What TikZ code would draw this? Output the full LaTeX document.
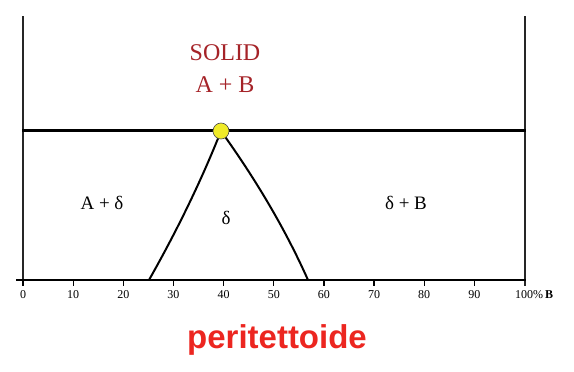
\documentclass[tikz,border=0pt]{standalone}
\usepackage{fontspec}
\setmainfont{Liberation Serif}
\newfontfamily\arialfont{Liberation Sans}
\definecolor{solidred}{RGB}{165,35,40}
\definecolor{titlered}{RGB}{236,38,32}
\definecolor{dotyellow}{RGB}{240,235,40}
\begin{document}
\begin{tikzpicture}[x=1pt,y=-1pt,
  frameline/.style={line width=2pt,draw=black!85},
  thickline/.style={line width=3pt,draw=black},
  curveline/.style={line width=2pt,draw=black},
  ticklabel/.style={font=\fontsize{12}{12}\selectfont,inner sep=0pt,anchor=north},
  regionlabel/.style={font=\fontsize{19}{19}\selectfont,inner sep=0pt},
  solidlabel/.style={font=\fontsize{24}{24}\selectfont,text=solidred,inner sep=0pt,align=center}
]
\useasboundingbox (0,0) rectangle (574,372);
% frame
\coordinate (ltop) at (23,16);
\coordinate (lbot) at (23,286);
\coordinate (rtop) at (524.5,16);
\coordinate (rbot) at (524.5,286);
\draw[frameline] (ltop) -- (lbot);
\draw[frameline] (rtop) -- (rbot);
\coordinate (hl) at (22,130);
\coordinate (hr) at (525.5,130);
\draw[thickline] (hl) -- (hr);
\coordinate (bl) at (16,280);
\coordinate (br) at (525.5,280);
\draw[line width=2pt] (bl) -- (br);
% ticks and labels
\foreach \i in {0,...,9} {
  \coordinate (t\i) at ({23+\i*50.15},280);
  \coordinate (tb\i) at ({23+\i*50.15},285.5);
  \draw[line width=1.2pt] (t\i) -- (tb\i);
  \pgfmathtruncatemacro{\v}{\i*10}
  \node[ticklabel] (lab\i) at ({23+\i*50.15},290) {\v};
}
\node[ticklabel,anchor=north west] (lab10) at (515,290) {100\%\,\textbf{B}};
% curves
\coordinate (dc) at (221,131);
\coordinate (lb) at (149,280);
\coordinate (rb) at (308,280);
\draw[curveline] (dc) .. controls (201.3,180.7) and (177.3,230) .. (lb);
\draw[curveline] (dc) .. controls (256.7,180.7) and (285.7,230) .. (rb);
\node[circle,draw=black!70,line width=0.6pt,fill=dotyellow,minimum size=16pt,inner sep=0pt] (dot) at (dc) {};
% labels
\node[solidlabel] (solid) at (225,69) {SOLID\\[8pt]A + B};
\node[regionlabel] (apd) at (102,203) {A + δ};
\node[regionlabel] (delta) at (226,218) {δ};
\node[regionlabel] (dpb) at (406,203) {δ + B};
\node[font=\arialfont\bfseries\fontsize{33}{33}\selectfont,text=titlered,inner sep=0pt] (title) at (277,340) {peritettoide};
\end{tikzpicture}
\end{document}
